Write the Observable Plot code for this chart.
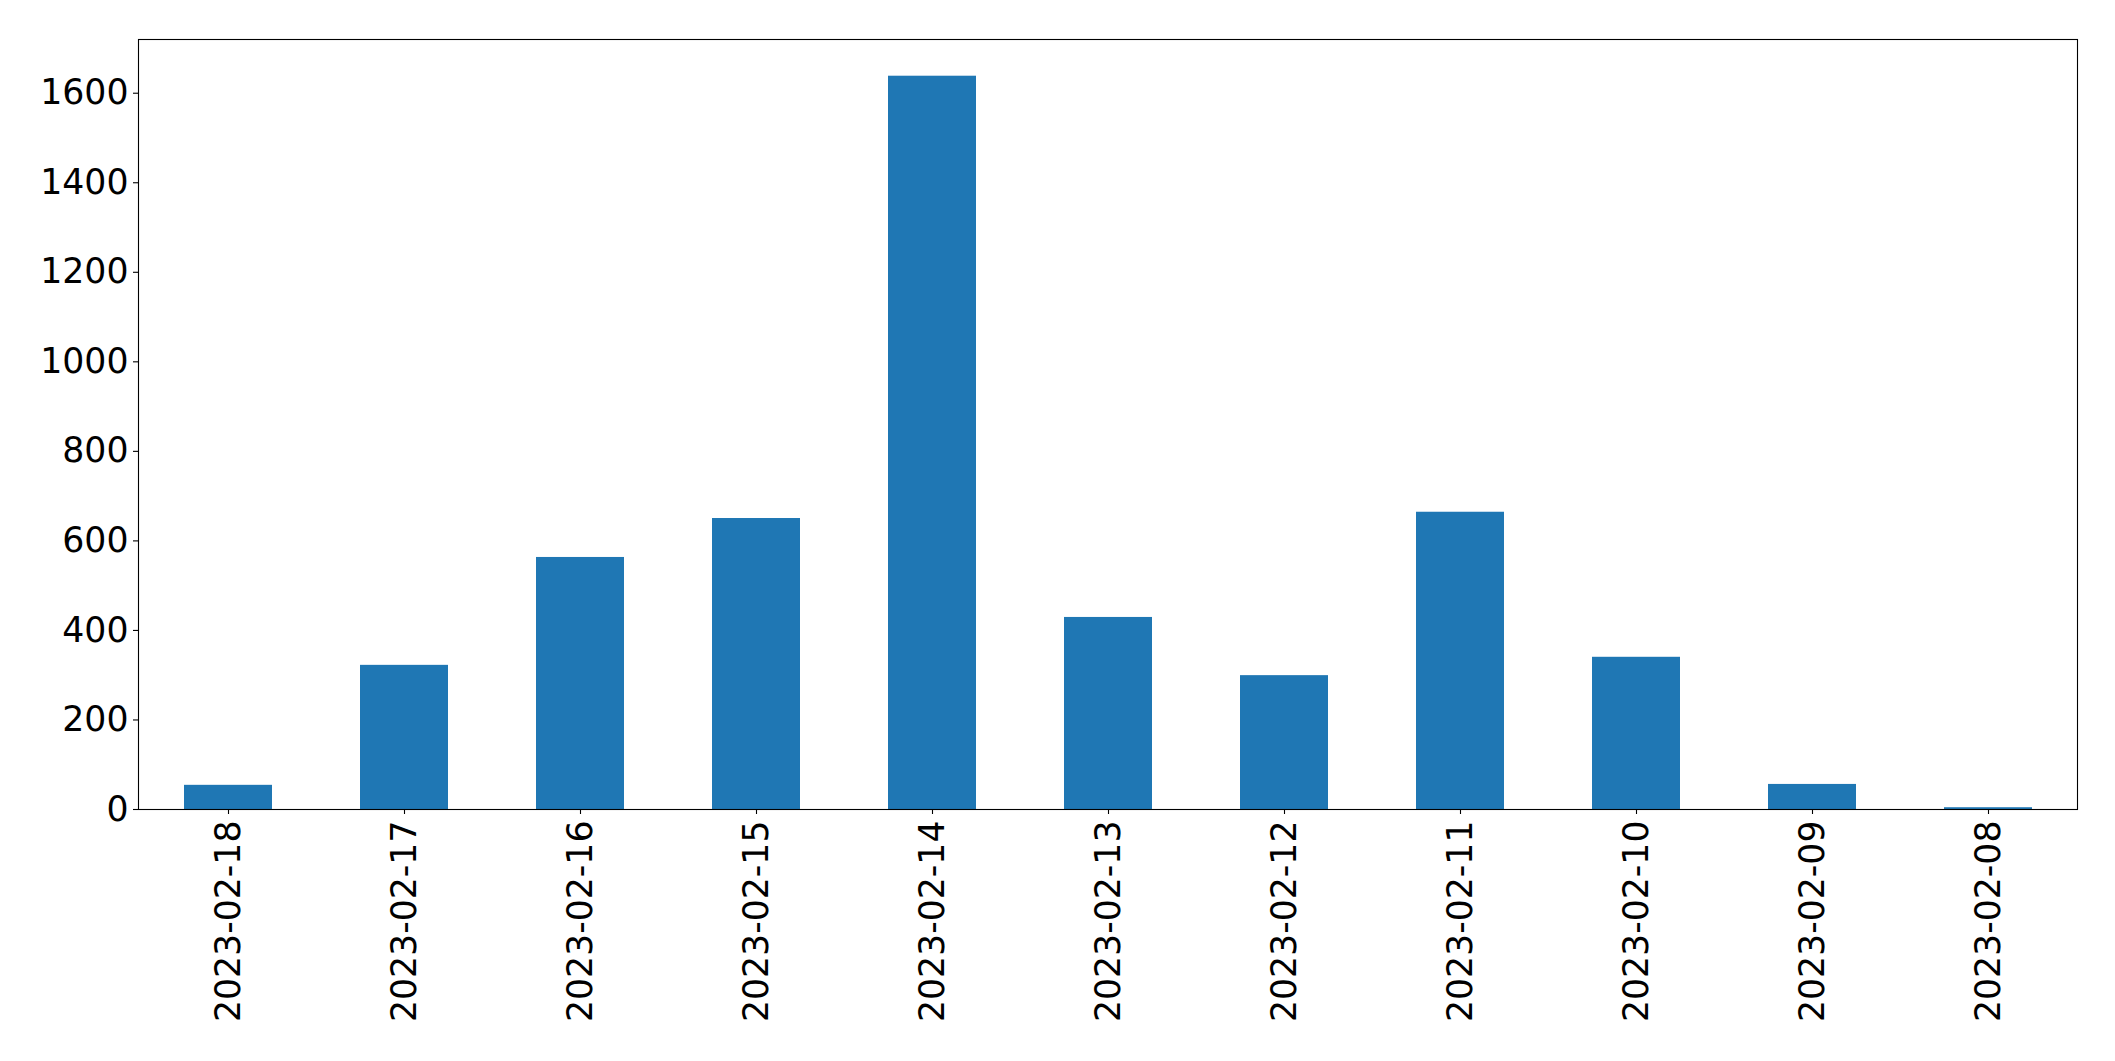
<!DOCTYPE html>
<html>
<head>
<meta charset="utf-8">
<script src="https://cdn.jsdelivr.net/npm/d3@7"></script>
<script src="https://cdn.jsdelivr.net/npm/@observablehq/plot@0.6"></script>
<style>
  html, body { margin: 0; padding: 0; background: #fff; }
  #chart svg { display: block; }
</style>
</head>
<body>
<div id="chart"></div>
<script>
const dates = ["2023-02-18","2023-02-17","2023-02-16","2023-02-15","2023-02-14","2023-02-13","2023-02-12","2023-02-11","2023-02-10","2023-02-09","2023-02-08"];
const counts = [54, 322, 563, 650, 1638, 429, 299, 664, 340, 56, 4];
const yTicks = [0, 200, 400, 600, 800, 1000, 1200, 1400, 1600];

const data = dates.map((d, i) => ({date: d, count: counts[i]}));
const fs = 34.7;

const chart = Plot.plot({
  width: 2115,
  height: 1061,
  marginLeft: 138,
  marginRight: 38,
  marginTop: 39,
  marginBottom: 252,
  style: {fontFamily: "DejaVu Sans", fontSize: fs + "px", color: "#000", background: "#fff"},
  x: {type: "band", domain: dates, paddingInner: 0.5, paddingOuter: 0.25, align: 0.5, label: null},
  y: {domain: [0, 1720], label: null},
  marks: [
    Plot.barY(data, {x: "date", y: "count", fill: "#1f77b4"}),
    Plot.frame({stroke: "#000", strokeWidth: 1.1}),
    Plot.axisY({ticks: yTicks, tickSize: 5, tickPadding: 5, fontSize: fs, label: null, stroke: "#000", strokeWidth: 1.1, tickFormat: d => String(d)}),
    Plot.axisX({tickSize: 5, tickPadding: 6, tickRotate: -90, fontSize: fs, label: null, stroke: "#000", strokeWidth: 1.1})
  ]
});
document.getElementById("chart").appendChild(chart);
</script>
</body>
</html>
